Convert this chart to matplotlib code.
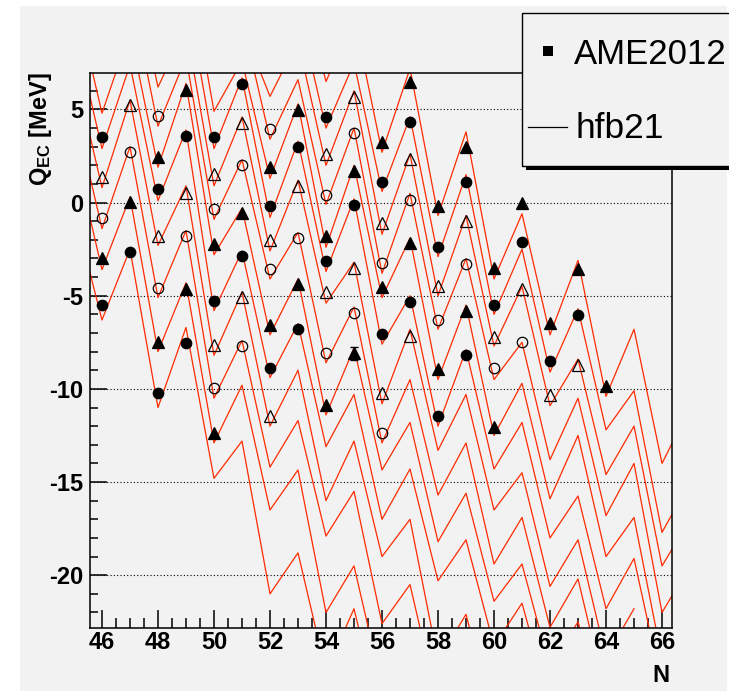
import matplotlib
matplotlib.use('Agg')
import matplotlib.pyplot as plt
from matplotlib.patches import Rectangle
from matplotlib.ticker import MultipleLocator

plt.rcParams['font.family'] = ['Liberation Sans', 'DejaVu Sans']
plt.rcParams['mathtext.fontset'] = 'custom'
plt.rcParams['mathtext.rm'] = 'Liberation Sans'
plt.rcParams['mathtext.bf'] = 'Liberation Sans:bold'
plt.rcParams['axes.unicode_minus'] = False

# hfb21 Q_EC [MeV] for each isotopic chain (top chain first)
# first N of each chain, values then follow N, N+1, N+2, ...
hfb_first_N = [53, 52, 51, 50, 49, 49, 47, 47, 45, 45, 45, 45, 45, 45]
hfb_c0 = [12.5, 6.5, 10.0, 2.7, 7.2, -0.7, 3.8, -4.1, -0.6, -7.1, -3.1, -10.4, -6.8, -14.0, -11.0]
hfb_c1 = [7.5, 10.5, 4.0, 7.5, 0.6, 4.6, -2.9, 1.5, -6.0, -2.5, -9.1, -5.7, -12.2, -10.1, -17.7, -15.0]
hfb_c2 = [9.5, 5.7, 8.7, 2.0, 6.0, -1.7, 2.6, -5.0, -0.7, -7.7, -4.5, -10.9, -8.4, -14.6, -12.0, -19.5, -17.0]
hfb_c3 = [7.2, 9.9, 3.4, 6.6, -0.1, 4.0, -3.8, 0.5, -6.8, -3.0, -9.5, -7.5, -13.8, -10.5, -16.8, -14.0, -22.0, -19.5]
hfb_c4 = [13.4, 4.9, 7.6, 1.3, 5.3, -2.4, 2.0, -5.1, -1.9, -9.5, -5.5, -12.5, -9.7, -15.9, -12.5, -19.0, -16.9, -24.5]
hfb_c5 = [11.4, 2.9, 6.7, -0.8, 3.3, -3.7, 0.2, -7.6, -5.0, -12.0, -7.9, -14.3, -11.8, -18.0, -15.75, -21.8, -19.1, -26.0]
hfb_c6 = [13.4, 6.2, 9.4, 0.9, 4.6, -2.6, 1.2, -5.4, -3.2, -10.8, -6.8, -13.3, -10.3, -16.5, -14.5, -20.6, -18.1, -24.4, -21.8]
hfb_c7 = [11.5, 4.1, 7.8, -0.9, 2.3, -4.1, -1.6, -8.6, -5.6, -12.9, -9.5, -15.7, -12.9, -19.4, -16.9, -22.8, -20.2, -26.5]
hfb_c8 = [11.3, 4.8, 9.2, 1.9, 6.4, -2.8, -0.3, -7.1, -4.1, -11.4, -7.8, -14.35, -11.8, -18.2, -15.6, -21.4, -19.4, -25.0, -22.5, -28.0]
hfb_c9 = [9.4, 2.9, 7.4, 0.1, 3.9, -5.8, -2.6, -9.4, -6.5, -13.1, -10.3, -17.0, -14.3, -20.3, -18.1, -23.8, -21.5, -27.0]
hfb_c10 = [7.3, 0.8, 5.5, -2.3, 0.9, -8.2, -4.8, -12.0, -9.0, -16.0, -12.8, -19.0, -17.0, -24.6, -22.1, -28.0]
hfb_c11 = [5.1, -1.4, 3.0, -5.1, -1.5, -10.5, -7.4, -14.2, -11.7, -17.9, -15.5, -22.6, -20.5, -27.0]
hfb_c12 = [2.9, -3.6, 0.3, -8.0, -4.3, -12.9, -9.8, -16.5, -14.35, -22.0, -19.5, -26.0]
hfb_c13 = [-0.4, -6.3, -2.5, -11.0, -6.7, -14.8, -12.8, -21.0, -18.8, -25.2, -21.8, -28.0]

# AME2012 Q_EC [MeV]
ame_N_c0 = [56, 57, 58, 59, 60, 61, 62, 63, 64]
ame_Q_c0 = [3.26, 6.48, -0.17, 2.96, -3.53, -0.01, -6.48, -3.58, -9.85]
ame_N_c1 = [54, 56, 57, 58, 59, 60, 61, 62, 63]
ame_Q_c1 = [4.57, 1.12, 4.30, -2.37, 1.12, -5.50, -2.14, -8.49, -6.04]
ame_N_c2 = [54, 55, 56, 57, 58, 59, 60, 61, 62, 63]
ame_Q_c2 = [2.60, 5.68, -1.12, 2.32, -4.46, -0.99, -7.23, -4.66, -10.33, -8.72]
ame_N_c3 = [52, 54, 55, 56, 57, 58, 59, 60, 61]
ame_Q_c3 = [3.94, 0.40, 3.71, -3.23, 0.13, -6.30, -3.30, -8.90, -7.47]
ame_N_c4 = [52, 53, 54, 55, 56, 57, 58, 59, 60]
ame_Q_c4 = [1.89, 4.96, -1.80, 1.71, -4.55, -2.19, -8.95, -5.80, -12.03]
ame_N_c5 = [50, 51, 52, 53, 54, 55, 56, 57, 58, 59]
ame_Q_c5 = [3.50, 6.36, -0.19, 2.99, -3.12, -0.13, -7.07, -5.32, -11.45, -8.18]
ame_N_c6 = [50, 51, 52, 53, 54, 55, 56, 57]
ame_Q_c6 = [1.53, 4.25, -2.01, 0.89, -4.82, -3.53, -10.24, -7.16]
ame_N_c7 = [48, 50, 51, 52, 53, 54, 55, 56]
ame_Q_c7 = [4.64, -0.37, 2.01, -3.59, -1.92, -8.06, -5.91, -12.38]
ame_N_c8 = [48, 49, 50, 51, 52, 53, 54, 55]
ame_Q_c8 = [2.46, 6.07, -2.23, -0.55, -6.57, -4.39, -10.86, -8.09]
ame_N_c9 = [46, 48, 49, 50, 51, 52, 53]
ame_Q_c9 = [3.50, 0.71, 3.58, -5.28, -2.87, -8.90, -6.79]
ame_N_c10 = [46, 47, 48, 49, 50, 51, 52]
ame_Q_c10 = [1.35, 5.23, -1.80, 0.53, -7.66, -5.09, -11.45]
ame_N_c11 = [46, 47, 48, 49, 50, 51]
ame_Q_c11 = [-0.85, 2.73, -4.60, -1.80, -9.97, -7.70]
ame_N_c12 = [46, 47, 48, 49, 50]
ame_Q_c12 = [-3.00, 0.04, -7.47, -4.64, -12.35]
ame_N_c13 = [46, 47, 48, 49]
ame_Q_c13 = [-5.50, -2.67, -10.20, -7.52]

# one measured point drawn with its error bar
err_N = [55]
err_Q = [-8.09]
err_dQ = [0.35]

hfb_all = [hfb_c0, hfb_c1, hfb_c2, hfb_c3, hfb_c4, hfb_c5, hfb_c6,
           hfb_c7, hfb_c8, hfb_c9, hfb_c10, hfb_c11, hfb_c12, hfb_c13]
ame_N_all = [ame_N_c0, ame_N_c1, ame_N_c2, ame_N_c3, ame_N_c4, ame_N_c5, ame_N_c6,
             ame_N_c7, ame_N_c8, ame_N_c9, ame_N_c10, ame_N_c11, ame_N_c12, ame_N_c13]
ame_Q_all = [ame_Q_c0, ame_Q_c1, ame_Q_c2, ame_Q_c3, ame_Q_c4, ame_Q_c5, ame_Q_c6,
             ame_Q_c7, ame_Q_c8, ame_Q_c9, ame_Q_c10, ame_Q_c11, ame_Q_c12, ame_Q_c13]

# marker style cycles: filled triangle, filled circle, open triangle, open circle
styles = [('^', 'k', 8.0), ('o', 'k', 7.5), ('^', 'none', 8.0), ('o', 'none', 7.5)]

W, H = 729, 691
fig = plt.figure(figsize=(W / 100, H / 100), dpi=100)
fig.patch.set_facecolor('white')
fig.add_artist(Rectangle((20 / W, 0), (727 - 20) / W, (H - 6) / H, transform=fig.transFigure,
                         fc='#f2f2f2', ec='none', zorder=-5))

ax = fig.add_axes([89.5 / W, (H - 628.3) / H, (671.7 - 89.5) / W, (628.3 - 72.7) / H])
ax.set_facecolor('#f2f2f2')

for c in range(len(hfb_all)):
    n0 = hfb_first_N[c]
    vals = hfb_all[c]
    ax.plot(range(n0, n0 + len(vals)), vals, color='#ff2a00', lw=0.9, zorder=2)

for c in range(len(ame_N_all)):
    m, fc, ms = styles[c % 4]
    ax.plot(ame_N_all[c], ame_Q_all[c], ls='none', marker=m, ms=ms, mfc=fc, mec='k',
            mew=0.9, zorder=4)

ax.errorbar(err_N, err_Q, yerr=err_dQ, fmt='none', ecolor='k', elinewidth=1.0,
            capsize=3, capthick=1.0, zorder=3)

for yg in [5, 0, -5, -10, -15, -20]:
    ax.axhline(yg, color='k', lw=0.8, ls=(0, (1, 2)), zorder=1)

ax.set_xlim(45.554, 66.346)
ax.set_ylim(-22.85, 6.973)
ax.xaxis.set_major_locator(MultipleLocator(2))
ax.xaxis.set_minor_locator(MultipleLocator(0.5))
ax.yaxis.set_major_locator(MultipleLocator(5))
ax.yaxis.set_minor_locator(MultipleLocator(1))
ax.tick_params(which='both', direction='in', top=False, right=False, width=1.1)
ax.tick_params(axis='x', which='major', length=13, pad=2)
ax.tick_params(axis='x', which='minor', length=7)
ax.tick_params(axis='y', which='major', length=12, pad=4.5)
ax.tick_params(axis='y', which='minor', length=6)
for lab in ax.get_xticklabels() + ax.get_yticklabels():
    lab.set_fontsize(17)
    lab.set_fontweight('bold')
for sp in ax.spines.values():
    sp.set_linewidth(1.1)

fig.text(40 / W, (H - 72) / H, r'$\mathbf{Q_{EC}}$ [MeV]', rotation=90, ha='center',
         va='top', fontsize=17, fontweight='bold')
fig.text(670 / W, (H - 676) / H, 'N', ha='right', va='center', fontsize=17,
         fontweight='bold')

# legend box (runs off the right edge of the canvas)
fig.add_artist(Rectangle((526 / W, (H - 170) / H), 300 / W, 4.5 / H, transform=fig.transFigure,
                         fc='k', ec='none', zorder=8))
fig.add_artist(Rectangle((521.7 / W, (H - 165.7) / H), 300 / W, 152.4 / H,
                         transform=fig.transFigure, fc='#f2f2f2', ec='k', lw=1.0, zorder=9))
fig.add_artist(Rectangle((543 / W, (H - 55.5) / H), 10 / W, 10 / H, transform=fig.transFigure,
                         fc='k', ec='none', zorder=10))
fig.text(574 / W, (H - 54) / H, 'AME2012', ha='left', va='center', fontsize=25, zorder=10)
fig.add_artist(plt.Line2D([528 / W, 567 / W], [(H - 126.7) / H, (H - 126.7) / H],
                          transform=fig.transFigure, color='k', lw=0.9, zorder=10))
fig.text(575 / W, (H - 128) / H, 'hfb21', ha='left', va='center', fontsize=25.5, zorder=10)

plt.savefig('out.png', dpi=100)
